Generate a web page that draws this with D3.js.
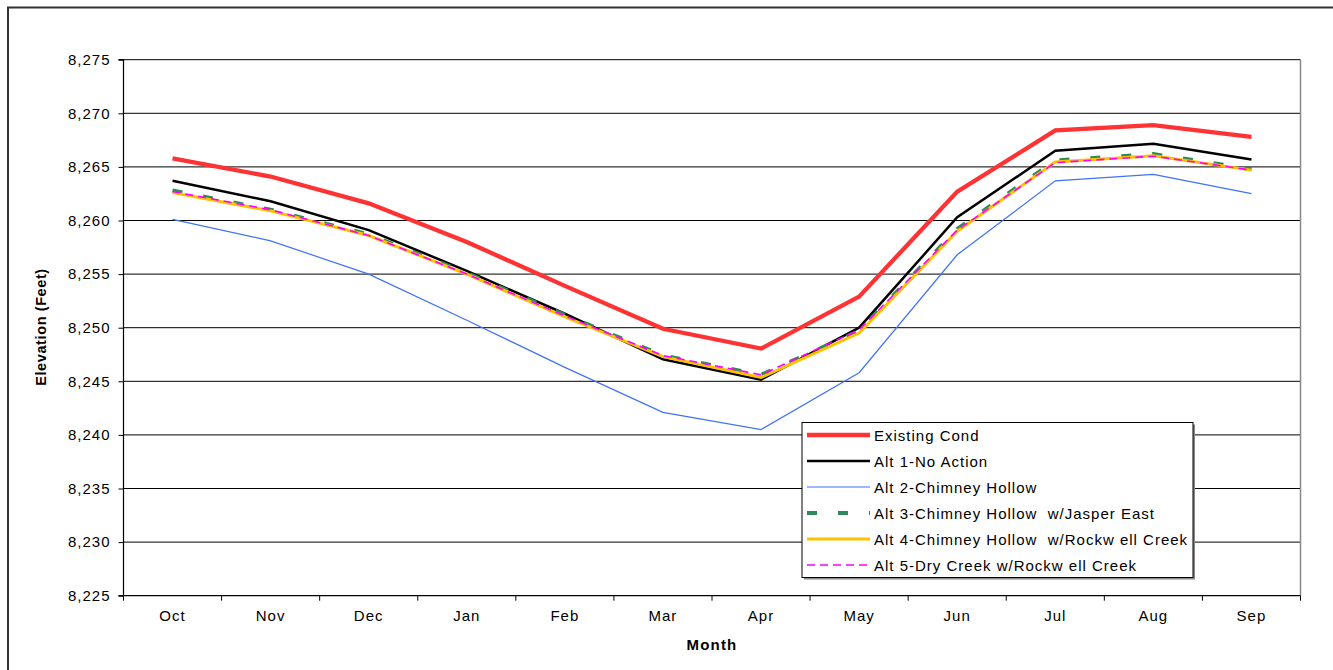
<!DOCTYPE html>
<html>
<head>
<meta charset="utf-8">
<script src="https://cdn.jsdelivr.net/npm/d3@7"></script>
<style>
  html, body { margin: 0; padding: 0; background: #fff; }
  svg { display: block; font-family: "Liberation Sans", Arial, sans-serif; }
</style>
</head>
<body>
<svg id="chart" width="1333" height="670"></svg>
<script>
// Reservoir elevation by month for each alternative (feet)
const months = ["Oct", "Nov", "Dec", "Jan", "Feb", "Mar", "Apr", "May", "Jun", "Jul", "Aug", "Sep"];
const yTicks = [8225, 8230, 8235, 8240, 8245, 8250, 8255, 8260, 8265, 8270, 8275];

const existingCond = [8265.8, 8264.1, 8261.6, 8258.0, 8253.9, 8249.9, 8248.05, 8252.9, 8262.7, 8268.4, 8268.9, 8267.8];
const alt1NoAction = [8263.7, 8261.8, 8259.1, 8255.3, 8251.3, 8247.05, 8245.15, 8250.0, 8260.3, 8266.5, 8267.15, 8265.7];
const alt2Chimney = [8260.1, 8258.1, 8255.0, 8250.7, 8246.3, 8242.1, 8240.5, 8245.8, 8256.8, 8263.7, 8264.3, 8262.5];
const alt3Jasper = [8262.8, 8261.0, 8258.7, 8255.1, 8251.2, 8247.4, 8245.6, 8249.7, 8259.2, 8265.6, 8266.2, 8264.8];
const alt4Rockwell = [8262.6, 8260.9, 8258.6, 8255.0, 8251.0, 8247.3, 8245.35, 8249.5, 8259.0, 8265.45, 8266.05, 8264.7];
const alt5DryCreek = [8262.7, 8261.0, 8258.6, 8255.0, 8251.1, 8247.4, 8245.6, 8249.8, 8259.1, 8265.4, 8266.0, 8264.7];

const series = [
  { name: "Existing Cond", values: existingCond, color: "#ff3333", width: 4.3, dash: null },
  { name: "Alt 1-No Action", values: alt1NoAction, color: "#000000", width: 2.5, dash: null },
  { name: "Alt 2-Chimney Hollow", values: alt2Chimney, color: "#3f72f5", width: 1.2, dash: null },
  { name: "Alt 3-Chimney Hollow  w/Jasper East", values: alt3Jasper, color: "#2e8b57", width: 4, dash: "10,21" },
  { name: "Alt 4-Chimney Hollow  w/Rockw ell Creek", values: alt4Rockwell, color: "#ffc000", width: 3, dash: null },
  { name: "Alt 5-Dry Creek w/Rockw ell Creek", values: alt5DryCreek, color: "#ff00ff", width: 1.6, dash: "8,5" }
];

const svg = d3.select("#chart");
const plot = { left: 123.5, right: 1300.5, top: 59.7, bottom: 595.7 };

// Outer chart frame
svg.append("path")
  .attr("d", `M8,670 V7.5 H1340`)
  .attr("fill", "none")
  .attr("stroke", "#333")
  .attr("stroke-width", 2);

const x = d3.scaleBand().domain(months).range([plot.left, plot.right]).paddingInner(0).paddingOuter(0);
const y = d3.scaleLinear().domain([8225, 8275]).range([plot.bottom, plot.top]);

// Horizontal gridlines
svg.append("g")
  .selectAll("line")
  .data(yTicks.slice(1))
  .join("line")
  .attr("x1", plot.left).attr("x2", plot.right)
  .attr("y1", d => y(d)).attr("y2", d => y(d))
  .attr("stroke", "#000")
  .attr("stroke-width", 1);

// Plot area right border
svg.append("line")
  .attr("x1", plot.right).attr("x2", plot.right)
  .attr("y1", plot.top).attr("y2", plot.bottom)
  .attr("stroke", "#888").attr("stroke-width", 1.5);

// Y axis
const yAxis = d3.axisLeft(y)
  .tickValues(yTicks)
  .tickFormat(d3.format(","))
  .tickSize(5)
  .tickPadding(8);
const gy = svg.append("g").attr("transform", `translate(${plot.left},0)`).call(yAxis);
gy.attr("font-family", null).attr("font-size", null);
gy.select(".domain").attr("stroke", "#000").attr("stroke-width", 1.2).attr("d", `M-5,${plot.top}H0V${plot.bottom}H-5`);
gy.selectAll(".tick line").attr("stroke", "#000");
gy.selectAll(".tick text")
  .attr("font-size", 15)
  .attr("letter-spacing", 1)
  .attr("fill", "#000");

// X axis with tick marks on category boundaries
const gx = svg.append("g").attr("transform", `translate(0,${plot.bottom})`);
gx.append("line")
  .attr("x1", plot.left).attr("x2", plot.right)
  .attr("stroke", "#000").attr("stroke-width", 1.2);
const boundaries = months.map(m => x(m)).concat([plot.right]);
gx.selectAll("line.tk")
  .data(boundaries)
  .join("line")
  .attr("class", "tk")
  .attr("x1", d => d).attr("x2", d => d)
  .attr("y1", 0).attr("y2", 5)
  .attr("stroke", "#000");
gx.selectAll("text")
  .data(months)
  .join("text")
  .attr("x", d => x(d) + x.bandwidth() / 2)
  .attr("y", 25.5)
  .attr("text-anchor", "middle")
  .attr("font-size", 15)
  .attr("letter-spacing", 1)
  .text(d => d);

// Axis titles
svg.append("text")
  .attr("x", 712).attr("y", 649.5)
  .attr("text-anchor", "middle")
  .attr("font-weight", "bold")
  .attr("font-size", 15)
  .attr("letter-spacing", 1.2)
  .text("Month");

svg.append("text")
  .attr("transform", `translate(45.5,327) rotate(-90)`)
  .attr("text-anchor", "middle")
  .attr("font-weight", "bold")
  .attr("font-size", 14.5)
  .attr("letter-spacing", 0.6)
  .text("Elevation (Feet)");

// Series lines
const line = d3.line()
  .x((d, i) => x(months[i]) + x.bandwidth() / 2)
  .y(d => y(d));

svg.append("g")
  .selectAll("path")
  .data(series)
  .join("path")
  .attr("d", d => line(d.values))
  .attr("fill", "none")
  .attr("stroke", d => d.color)
  .attr("stroke-width", d => d.width)
  .attr("stroke-dasharray", d => d.dash)
  .attr("stroke-linejoin", "miter");

// Legend
const legend = svg.append("g");
legend.append("rect")
  .attr("x", 804).attr("y", 424.5)
  .attr("width", 391).attr("height", 155)
  .attr("fill", "#888");
legend.append("rect")
  .attr("x", 802).attr("y", 422.5)
  .attr("width", 391).attr("height", 155)
  .attr("fill", "#fff")
  .attr("stroke", "#000")
  .attr("stroke-width", 1);

const rows = legend.selectAll("g.row")
  .data(series)
  .join("g")
  .attr("class", "row")
  .attr("transform", (d, i) => `translate(0,${435 + i * 26})`);
rows.append("line")
  .attr("x1", 807).attr("x2", 870)
  .attr("stroke", d => d.color)
  .attr("stroke-width", d => d.width)
  .attr("stroke-dasharray", d => d.dash);
rows.append("text")
  .attr("x", 874).attr("y", 6)
  .attr("font-size", 15)
  .attr("letter-spacing", 1.0)
  .attr("fill", "#000")
  .attr("xml:space", "preserve")
  .style("white-space", "pre")
  .text(d => d.name);
</script>
</body>
</html>
